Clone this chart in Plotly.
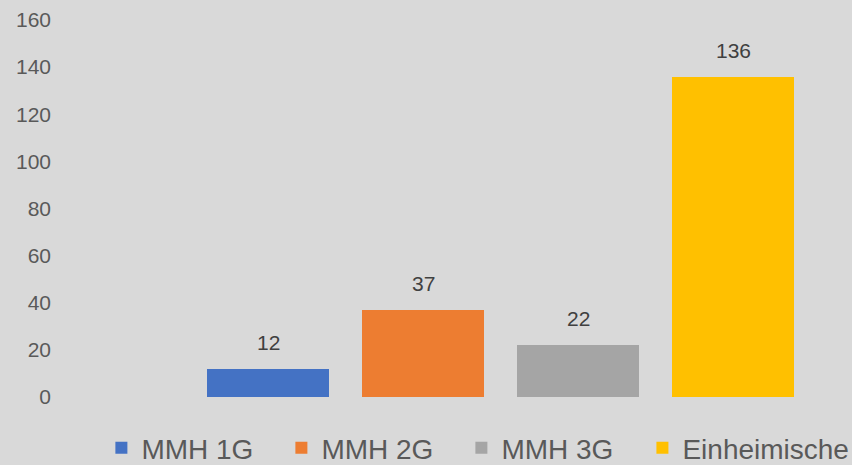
import plotly.graph_objects as go

series_names = ["MMH 1G", "MMH 2G", "MMH 3G", "Einheimische"]
series_values = [12, 37, 22, 136]
series_positions = [1, 2, 3, 4]
series_colors = ["#4472c4", "#ed7d31", "#a5a5a5", "#ffc000"]
y_ticks = [0, 20, 40, 60, 80, 100, 120, 140, 160]

FONT = "Liberation Sans, Arial, sans-serif"
legend_ids = ["legend", "legend", "legend", "legend2"]

fig = go.Figure()
for name, val, pos, col, lg in zip(series_names, series_values, series_positions,
                                   series_colors, legend_ids):
    fig.add_trace(go.Bar(
        x=[pos], y=[val], name=name, width=0.787,
        marker=dict(color=col, line=dict(width=0)),
        hoverinfo="name+y", legend=lg,
    ))
    fig.add_annotation(
        x=pos, y=val, text=str(val), showarrow=False,
        yanchor="bottom", yshift=13,
        font=dict(family=FONT, size=21, color="#404040"),
    )

legend_common = dict(
    orientation="h", xanchor="left", yanchor="top",
    xref="container", yref="container", y=0.09,
    font=dict(family=FONT, size=28, color="#595959"),
    bgcolor="rgba(0,0,0,0)",
)

fig.update_layout(
    width=852, height=465,
    paper_bgcolor="#d9d9d9", plot_bgcolor="#d9d9d9",
    margin=dict(l=56, r=10, t=20, b=68, autoexpand=False),
    font=dict(family=FONT),
    showlegend=True,
    bargap=0,
    legend=dict(x=0.119, entrywidth=135, entrywidthmode="pixels", **legend_common),
    legend2=dict(x=0.754, **legend_common),
    xaxis=dict(range=[-0.368, 4.703], showticklabels=False, showgrid=False,
               zeroline=False, showline=False, ticks=""),
    yaxis=dict(range=[0, 160], tickvals=y_ticks, showgrid=False, zeroline=False,
               showline=False, ticks="", ticklabelstandoff=4,
               tickfont=dict(family=FONT, size=21, color="#595959")),
)

fig.write_html("out.html", config={"displayModeBar": False},
               post_script="document.body.style.margin='0';")
